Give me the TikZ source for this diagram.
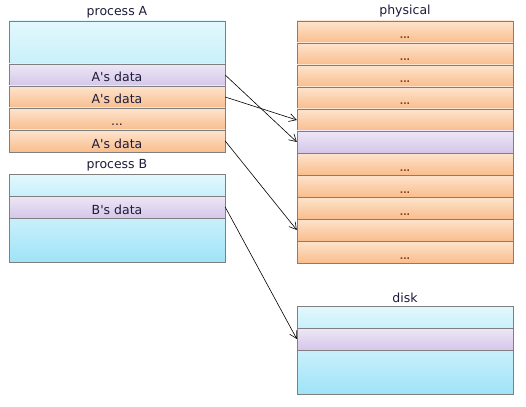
\documentclass[tikz,border=0pt]{standalone}
\usepackage{fontspec}
\setmainfont{DejaVu Sans}
\usetikzlibrary{arrows.meta,shadows}

\definecolor{skytop}{HTML}{E2F8FD}
\definecolor{skymid}{HTML}{C9F0FB}
\definecolor{skybot}{HTML}{9FE3F8}
\definecolor{lilactop}{HTML}{EEE7F6}
\definecolor{lilacbot}{HTML}{D4C6E9}
\definecolor{orngtop}{HTML}{FDE4CE}
\definecolor{orngbot}{HTML}{F9BD8C}
\definecolor{edgegray}{HTML}{7F7F7F}
\definecolor{dotbrown}{HTML}{8A3A10}
\definecolor{titlecol}{HTML}{1C1C3A}

\newcommand{\tick}{\textquotesingle}
\newcommand{\filler}{\textcolor{dotbrown}{\bfseries\fontsize{9}{11}\selectfont ...}}

\begin{document}
\begin{tikzpicture}[x=1pt,y=-1pt,
    cell/.style={draw=edgegray, minimum width=216pt, minimum height=22pt,
      inner sep=0pt, text height=15pt, text depth=1pt,
      font=\fontsize{12.5}{14}\selectfont, text=titlecol,
      drop shadow={shadow xshift=1pt, shadow yshift=-1.2pt, opacity=.3}},
    orng/.style={cell, top color=orngtop, bottom color=orngbot},
    lilac/.style={cell, top color=lilactop, bottom color=lilacbot},
    palesky/.style={cell, top color=skytop, bottom color=skymid},
    deepsky/.style={cell, top color=skymid, bottom color=skybot},
    ttl/.style={font=\fontsize{12.5}{14}\selectfont, text=titlecol},
    link/.style={-{Straight Barb[length=7pt,width=8pt]}, line width=0.6pt}]
  \useasboundingbox (0,0) rectangle (526,406);

  % process A
  \node[ttl] (procA) at (117,12) {process A};
  \node[palesky, minimum height=43pt] (pa0) at (117,42.5) {};
  \node[lilac] (pa1) at (117,75) {A\tick s data};
  \node[orng] (pa2) at (117,97) {A\tick s data};
  \node[orng] (pa3) at (117,119) {...};
  \node[orng] (pa4) at (117,141) {A\tick s data};

  % process B
  \node[ttl] (procB) at (117,165) {process B};
  \node[palesky] (pb0) at (117,185) {};
  \node[lilac] (pb1) at (117,207) {B\tick s data};
  \node[deepsky, minimum height=44pt] (pb2) at (117,240) {};

  % physical memory
  \node[ttl] (phys) at (405,11) {physical};
  \node[orng] (ph0) at (405,32) {\filler};
  \node[orng] (ph1) at (405,54) {\filler};
  \node[orng] (ph2) at (405,76) {\filler};
  \node[orng] (ph3) at (405,98) {\filler};
  \node[orng] (ph4) at (405,120) {};
  \node[lilac] (ph5) at (405,142) {};
  \node[orng] (ph6) at (405,164) {\filler};
  \node[orng] (ph7) at (405,186) {\filler};
  \node[orng] (ph8) at (405,208) {\filler};
  \node[orng] (ph9) at (405,230) {};
  \node[orng] (ph10) at (405,252) {\filler};

  % disk
  \node[ttl] (disk) at (405,298) {disk};
  \node[palesky] (dk0) at (405,317) {};
  \node[lilac] (dk1) at (405,339) {};
  \node[deepsky, minimum height=44pt] (dk2) at (405,372) {};

  % mappings
  \draw[link] (pa1.east) -- (ph5.west);
  \draw[link] (pa2.east) -- (ph4.west);
  \draw[link] (pa4.east) -- (ph9.west);
  \draw[link] (pb1.east) -- (dk1.west);
\end{tikzpicture}
\end{document}
